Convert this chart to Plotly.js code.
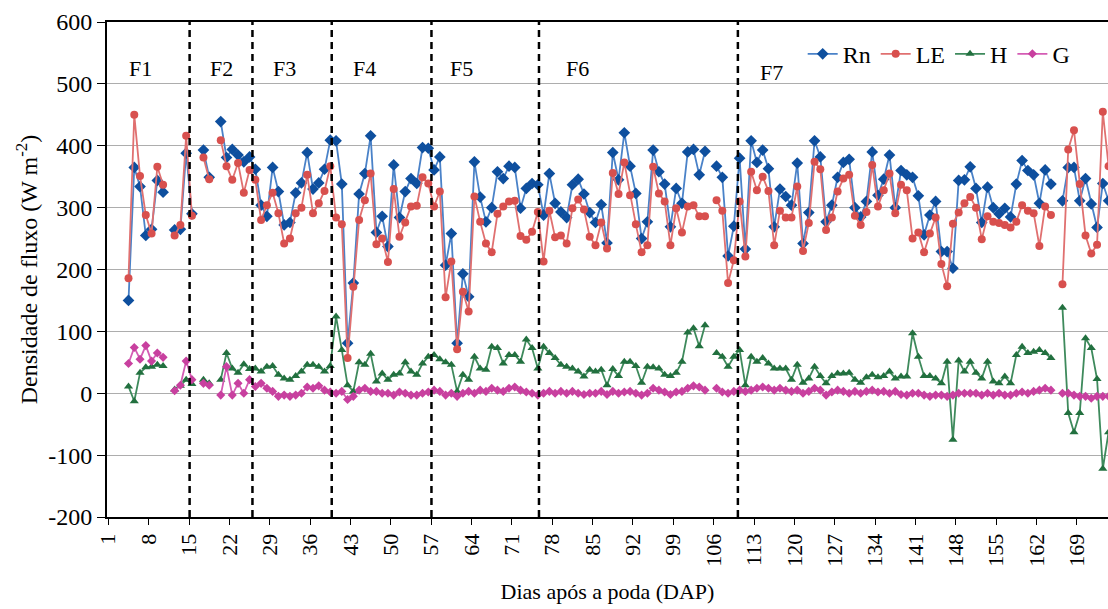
<!DOCTYPE html>
<html><head><meta charset="utf-8">
<script src="https://cdn.plot.ly/plotly-3.0.1.min.js"></script>
<style>html,body{margin:0;padding:0;background:#fff;overflow:hidden}#chart{width:1108px;height:609px}
#chart svg text{font-family:"Liberation Serif","Times New Roman",serif !important}</style>
</head><body><div id="chart"></div>
<script>
// days 4..174 (DAP); null = missing day
const firstDay = 4;
const rn = [150,365,334,255,265,344,325,null,264,265,388,290,null,393,349,null,439,381,394,385,374,382,362,304,286,365,326,272,276,324,340,389,330,340,362,409,408,338,81,178,322,355,416,260,286,237,369,284,326,347,339,397,396,361,382,207,258,81,193,156,374,317,277,300,358,347,367,365,299,331,339,337,288,355,307,293,284,337,346,322,292,276,305,243,389,345,421,367,323,250,277,393,358,338,269,331,307,390,394,353,391,null,367,349,222,270,380,233,408,373,393,363,269,330,318,304,372,242,292,408,382,277,304,349,373,378,300,285,310,390,320,346,385,300,360,353,349,319,256,288,310,229,229,202,344,345,366,331,276,333,300,290,299,285,338,376,360,353,307,361,338,null,311,365,365,311,347,306,268,339,311];
const le = [186,450,351,288,258,366,337,null,255,272,416,287,null,381,346,null,409,367,345,372,324,361,345,280,304,324,291,242,250,291,300,353,291,307,327,367,284,273,57,172,280,312,355,241,250,212,330,253,276,302,303,349,339,302,326,155,213,71,164,132,318,277,242,228,290,302,310,311,254,248,261,293,213,295,252,255,242,299,313,297,253,239,276,234,356,322,373,320,273,228,239,366,323,310,239,299,260,302,304,286,286,null,312,295,178,215,310,221,358,328,350,327,239,295,284,284,334,230,275,374,362,264,284,326,347,353,287,272,293,369,302,328,355,291,337,328,250,260,228,258,284,209,173,274,292,307,317,300,249,286,277,275,272,268,277,304,295,291,238,302,288,null,176,394,425,338,255,226,240,455,367];
const h = [11,-13,33,42,43,46,44,null,6,12,22,15,null,22,16,null,22,65,40,33,47,39,40,35,43,44,30,24,22,28,35,46,46,43,35,44,124,70,13,3,50,46,64,19,32,22,30,32,50,35,30,48,59,62,55,50,46,3,30,22,59,40,38,75,73,48,62,62,51,87,73,40,75,65,57,46,43,40,35,27,38,35,38,13,39,28,51,51,44,17,43,42,40,30,28,33,51,98,105,76,110,null,65,59,43,59,70,13,59,51,57,48,40,40,40,22,46,17,24,43,28,16,28,32,32,33,22,17,26,30,26,28,35,24,27,27,97,59,28,28,24,16,51,-75,53,35,51,33,24,51,19,16,27,16,62,75,65,67,70,65,57,null,138,-32,-63,-32,89,73,23,-122,-63];
const g = [48,74,55,77,52,65,58,null,4,13,52,22,null,16,13,null,-3,43,-3,16,0,22,11,16,8,3,-5,-3,-5,-3,0,10,8,12,5,2,0,3,-10,-5,5,8,3,3,0,0,-3,2,0,-3,-3,0,2,5,3,-3,0,-5,0,3,0,5,3,8,5,3,8,10,5,2,0,-3,0,3,0,3,0,3,0,-2,0,0,3,-2,3,0,2,3,0,-3,0,8,5,2,-2,2,3,8,12,10,5,null,8,2,0,3,5,3,5,8,10,8,5,8,5,3,5,0,3,8,5,-3,2,5,3,0,3,0,3,5,2,3,0,3,-2,-3,0,0,-3,-5,-3,-3,-5,-3,0,0,0,0,-3,0,-3,0,-3,-3,0,2,0,3,5,8,5,null,0,0,-3,-5,-5,-8,-5,-5,-5];
const tickLabels = [1,8,15,22,29,36,43,50,57,64,71,78,85,92,99,106,113,120,127,134,141,148,155,162,169];
const yTicks = [-200,-100,0,100,200,300,400,500,600];
const phaseNames = ['F1','F2','F3','F4','F5','F6','F7'];
const phaseLabelX = [6,20.2,31.1,45,61.8,81.8,115.6];
const phaseLabelY = [525,525,525,525,525,525,518];
const phaseBounds = [14.6,25.5,39.25,56.55,75.2,109.7];

const days = rn.map((_, i) => firstDay + i);
const serif = 'Liberation Serif';

function tr(name, y, lineColor, mColor, symbol, size) {
  return {x: days, y: y, name: name, type: 'scatter', mode: 'lines+markers', connectgaps: false,
    line: {color: lineColor, width: 1.8},
    marker: {symbol: symbol, size: size, color: mColor, line: {width: 0}}};
}
const data = [
  tr('Rn', rn, '#4A82C8', '#0E4F9E', 'diamond', 9),
  tr('LE', le, '#E07070', '#D8504E', 'circle', 8),
  tr('H', h, '#3E8A5C', '#22703F', 'triangle-up', 8),
  tr('G', g, '#D45CB4', '#C8409F', 'diamond', 7)
];

const shapes = phaseBounds.map(v => ({type: 'line', xref: 'x', yref: 'paper', x0: v, x1: v, y0: 0, y1: 1,
  line: {color: '#000', width: 2.5, dash: '7px,5px'}, layer: 'above'}));
const annotations = phaseNames.map((t, i) => ({x: phaseLabelX[i], y: phaseLabelY[i], xref: 'x', yref: 'y', text: t,
  showarrow: false, font: {family: serif, size: 22, color: '#000'}}));

const layout = {
  width: 1108, height: 609,
  margin: {l: 107, r: 0, t: 22, b: 92},
  paper_bgcolor: '#fff', plot_bgcolor: '#fff',
  font: {family: serif, color: '#000', size: 22},
  showlegend: true,
  legend: {orientation: 'h', x: 0.695, y: 0.935, xanchor: 'left', yanchor: 'middle',
    font: {family: serif, size: 24, color: '#000'}, bgcolor: 'rgba(255,255,255,1)', itemwidth: 30, tracegroupgap: 0},
  xaxis: {range: [0.27, 173.9], tickmode: 'array', tickvals: tickLabels.map(k => k - 0.5), ticktext: tickLabels.map(String),
    tickangle: -90, ticks: 'outside', ticklen: 6, tickwidth: 1, tickcolor: '#000',
    showline: true, linecolor: '#000', linewidth: 2, mirror: true, showgrid: false, zeroline: false,
    tickfont: {family: serif, size: 22, color: '#000'},
    title: {text: 'Dias após a poda (DAP)', font: {family: serif, size: 22, color: '#000'}, standoff: 18}},
  yaxis: {range: [-200, 600], tickmode: 'array', tickvals: yTicks, ticktext: yTicks.map(String), ticks: 'outside', ticklen: 8, tickwidth: 1, tickcolor: '#000',
    showline: true, linecolor: '#000', linewidth: 2, showgrid: true, gridcolor: '#ADADAD', gridwidth: 1, zeroline: false,
    tickfont: {family: serif, size: 24, color: '#000'},
    title: {text: 'Densidade de fluxo (W m<sup>-2</sup>)', font: {family: serif, size: 24, color: '#000'}, standoff: 4}},
  shapes: shapes,
  annotations: annotations
};
Plotly.newPlot('chart', data, layout, {staticPlot: true});
</script></body></html>
